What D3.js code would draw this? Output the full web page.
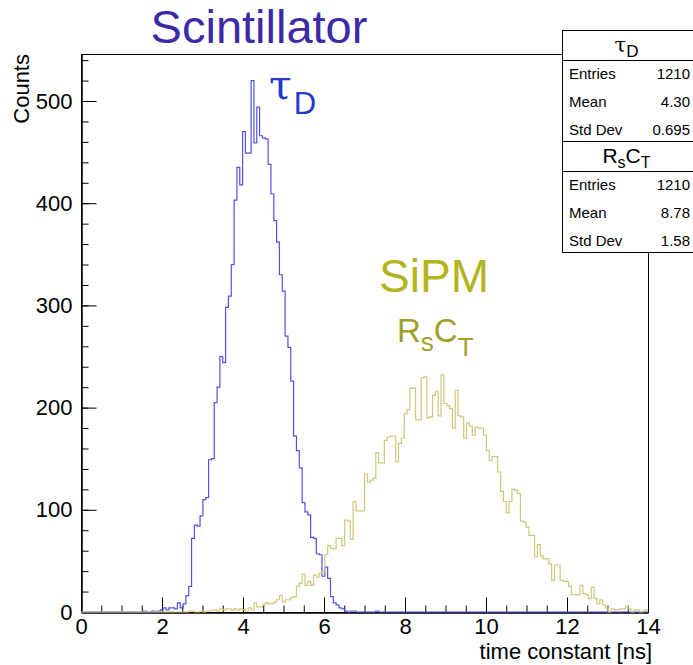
<!DOCTYPE html>
<html>
<head>
<meta charset="utf-8">
<script src="https://cdn.jsdelivr.net/npm/d3@7"></script>
<style>
  body { margin: 0; background: #fff; }
  svg { display: block; }
  text { font-family: "Liberation Sans", Arial, sans-serif; }
</style>
</head>
<body>
<div id="chart"></div>
<script>
const FRAME_WIDTH = 693;
const FRAME_HEIGHT = 665;
const MARGINS = {left: 81, right: 45, top: 54, bottom: 53};

// histogram binning: 200 bins from 0 to 14 ns
const N_BINS = 200;
const X_MIN = 0, X_MAX = 14;
const Y_MAX = 546;

// scintillator tau_D counts, starting at bin TAU_START
const TAU_START = 20;
const TAU_COUNTS = [0, 0, 1, 0, 0, 1, 0, 1, 2, 4, 2, 4, 4, 3, 9, 4, 8, 16, 25, 72,
  85, 84, 94, 110, 112, 149, 150, 205, 220, 250, 244, 298, 309, 340, 403, 435, 418, 470, 449, 449,
  520, 459, 494, 466, 464, 463, 438, 409, 383, 362, 330, 314, 270, 259, 226, 172, 158, 141, 107, 98,
  95, 73, 72, 57, 56, 35, 44, 33, 15, 9, 7, 4, 3, 1, 0, 1, 1, 0, 0, 0,
  0, 0, 0, 0, 1];

// SiPM RsCT counts, starting at bin RC_START
const RC_START = 37;
const RC_COUNTS = [0, 1, 1, 0, 0, 1, 0, 1, 1, 2, 2, 1, 3, 2, 3, 3, 2, 3, 2, 3,
  2, 1, 4, 2, 9, 5, 5, 7, 9, 8, 8, 10, 12, 16, 10, 12, 12, 14, 15, 25,
  28, 37, 26, 30, 26, 36, 34, 38, 39, 56, 65, 62, 62, 72, 72, 65, 90, 89, 71, 108,
  99, 99, 99, 135, 127, 129, 131, 156, 146, 146, 168, 171, 172, 172, 147, 165, 170, 194, 198, 219,
  219, 188, 188, 229, 230, 190, 191, 212, 216, 192, 232, 204, 202, 199, 180, 217, 192, 191, 170, 185,
  182, 173, 181, 180, 180, 173, 158, 148, 152, 152, 137, 118, 108, 97, 108, 120, 119, 116, 89, 88,
  83, 75, 75, 54, 66, 55, 52, 52, 47, 31, 46, 46, 31, 30, 30, 25, 17, 17, 17, 26,
  18, 17, 13, 24, 13, 8, 12, 7, 4, 0, 3, 2, 2, 3, 3, 5, 3, 0, 2, 2,
  0, 1, 2];

const X_TICKS = [0, 2, 4, 6, 8, 10, 12, 14];
const Y_TICKS = [0, 100, 200, 300, 400, 500];

const TAU_STATS = [["Entries", "1210"], ["Mean", "4.30"], ["Std Dev", "0.695"]];
const RC_STATS = [["Entries", "1210"], ["Mean", "8.78"], ["Std Dev", "1.58"]];

const TAU_COLOR = "#5252e4";
const RC_COLOR = "#cfc87a";

const SVG = d3.select("#chart")
  .append("svg")
    .attr("width", FRAME_WIDTH)
    .attr("height", FRAME_HEIGHT);

const X_SCALE = d3.scaleLinear()
  .domain([X_MIN, X_MAX])
  .range([MARGINS.left, FRAME_WIDTH - MARGINS.right]);

const Y_SCALE = d3.scaleLinear()
  .domain([0, Y_MAX])
  .range([FRAME_HEIGHT - MARGINS.bottom, MARGINS.top]);

const BIN_W = (X_MAX - X_MIN) / N_BINS;

// expand a partial counts list into full bin list, then step points
function histPoints(start, counts) {
  let pts = [];
  for (let k = 0; k < N_BINS; k++) {
    let v = (k >= start && k < start + counts.length) ? counts[k - start] : 0;
    pts.push([X_MIN + k * BIN_W, v]);
  }
  pts.push([X_MAX, pts[pts.length - 1][1]]);
  return pts;
}

const STEP = d3.line()
  .x(d => X_SCALE(d[0]))
  .y(d => Y_SCALE(d[1]))
  .curve(d3.curveStepAfter);

// frame
SVG.append("rect")
  .attr("x", X_SCALE(X_MIN) + 0.5)
  .attr("y", Y_SCALE(Y_MAX) + 0.5)
  .attr("width", X_SCALE(X_MAX) - X_SCALE(X_MIN))
  .attr("height", Y_SCALE(0) - Y_SCALE(Y_MAX))
  .attr("fill", "none")
  .attr("stroke", "#000")
  .attr("stroke-width", 1);

// x axis, ticks inward
const xg = SVG.append("g")
  .attr("transform", "translate(0," + (Y_SCALE(0) + 0.5) + ")");
xg.append("g")
  .call(d3.axisBottom(X_SCALE).tickValues(d3.range(X_MIN, X_MAX + 0.01, 0.5))
    .tickFormat("").tickSizeInner(-7).tickSizeOuter(0));
xg.append("g")
  .call(d3.axisBottom(X_SCALE).tickValues(X_TICKS)
    .tickFormat(d3.format("d")).tickSizeInner(-15).tickSizeOuter(0).tickPadding(6));

// y axis
const yg = SVG.append("g")
  .attr("transform", "translate(" + (X_SCALE(X_MIN) + 0.5) + ",0)");
yg.append("g")
  .call(d3.axisLeft(Y_SCALE).tickValues(d3.range(0, Y_MAX, 20))
    .tickFormat("").tickSizeInner(-7).tickSizeOuter(0));
yg.append("g")
  .call(d3.axisLeft(Y_SCALE).tickValues(Y_TICKS)
    .tickFormat(d3.format("d")).tickSizeInner(-15).tickSizeOuter(0).tickPadding(9));

SVG.selectAll(".tick text")
  .attr("font-family", "Liberation Sans, Arial, sans-serif")
  .attr("font-size", "22px")
  .attr("fill", "#000");
SVG.selectAll(".tick line").attr("stroke", "#000");
SVG.selectAll(".domain").attr("stroke", "#000");

// histograms
SVG.append("path")
  .datum(histPoints(TAU_START, TAU_COUNTS))
  .attr("d", STEP)
  .attr("fill", "none")
  .attr("stroke", TAU_COLOR)
  .attr("stroke-width", 1.2);

SVG.append("path")
  .datum(histPoints(RC_START, RC_COUNTS))
  .attr("d", STEP)
  .attr("fill", "none")
  .attr("stroke", RC_COLOR)
  .attr("stroke-width", 1.2);

// axis titles
SVG.append("text")
  .attr("transform", "translate(29," + MARGINS.top + ") rotate(-90)")
  .attr("text-anchor", "end")
  .attr("font-size", "22px")
  .text("Counts");

SVG.append("text")
  .attr("x", 652)
  .attr("y", 659)
  .attr("text-anchor", "end")
  .attr("font-size", "22px")
  .text("time constant [ns]");

// annotations
SVG.append("text")
  .attr("x", 259).attr("y", 43)
  .attr("text-anchor", "middle")
  .attr("font-size", "47px")
  .attr("fill", "#3c2aa6")
  .text("Scintillator");

let tauLbl = SVG.append("text").attr("x", 269).attr("y", 99).attr("fill", "#2438cc");
tauLbl.append("tspan").attr("font-family", "DejaVu Serif, serif").attr("font-size", "41px").text("τ");
tauLbl.append("tspan").attr("dy", 15).attr("dx", 2).attr("font-size", "31px").text("D");

SVG.append("text")
  .attr("x", 434).attr("y", 292)
  .attr("text-anchor", "middle")
  .attr("font-size", "46px")
  .attr("fill", "#b4b41c")
  .text("SiPM");

let rcLbl = SVG.append("text").attr("x", 397).attr("y", 342).attr("fill", "#a0a02a").attr("font-size", "33px");
rcLbl.append("tspan").text("R");
rcLbl.append("tspan").attr("dy", 9).attr("font-size", "26px").text("s");
rcLbl.append("tspan").attr("dy", -9).text("C");
rcLbl.append("tspan").attr("dy", 14).attr("font-size", "26px").text("T");

// stat boxes
function statBox(y0, rows, titleFn) {
  const bx = 562, bw = 131, titleH = 30, rowH = 28;
  const bh = titleH + rowH * rows.length - 3;
  let g = SVG.append("g");
  g.append("rect")
    .attr("x", bx + 0.5).attr("y", y0 + 0.5)
    .attr("width", bw).attr("height", bh)
    .attr("fill", "#fff").attr("stroke", "#000");
  g.append("line")
    .attr("x1", bx).attr("x2", bx + bw)
    .attr("y1", y0 + titleH + 0.5).attr("y2", y0 + titleH + 0.5)
    .attr("stroke", "#000");
  titleFn(g, bx + bw / 2 - 1, y0 + 22);
  rows.forEach((r, i) => {
    let yy = y0 + titleH + 19 + i * rowH;
    g.append("text").attr("x", bx + 7).attr("y", yy).attr("font-size", "15px").text(r[0]);
    g.append("text").attr("x", bx + bw - 3).attr("y", yy).attr("font-size", "15px")
      .attr("text-anchor", "end").text(r[1]);
  });
}

statBox(30, TAU_STATS, (g, cx, cy) => {
  let t = g.append("text").attr("x", cx).attr("y", cy).attr("text-anchor", "middle");
  t.append("tspan").attr("font-family", "DejaVu Serif, serif").attr("font-size", "21px").text("τ");
  t.append("tspan").attr("dy", 5).attr("font-size", "17px").text("D");
});

statBox(141, RC_STATS, (g, cx, cy) => {
  let t = g.append("text").attr("x", cx).attr("y", cy).attr("text-anchor", "middle").attr("font-size", "21px");
  t.append("tspan").text("R");
  t.append("tspan").attr("dy", 5).attr("font-size", "16px").text("s");
  t.append("tspan").attr("dy", -5).text("C");
  t.append("tspan").attr("dy", 5).attr("font-size", "16px").text("T");
});
</script>
</body>
</html>
